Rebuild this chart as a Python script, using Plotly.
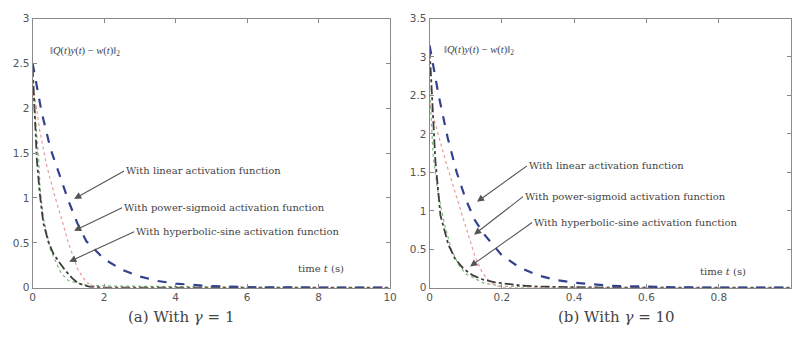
import plotly.graph_objects as go

# ---- panel (a): gamma = 1 ----
t_lin_a = [0, 0.25, 0.5, 0.75, 1.0, 1.25, 1.5, 2.0, 2.5, 3.0, 3.5, 4.0, 5.0, 6.0, 7.0, 8.0, 9.0, 10.0]
lin_a = [2.50, 1.96, 1.55, 1.25, 0.97, 0.72, 0.52, 0.32, 0.20, 0.125, 0.075, 0.046, 0.017, 0.006, 0.002, 0.001, 0.0, 0.0]

t_ps_a = [0, 0.2, 0.4, 0.6, 0.86, 1.0, 1.27, 1.5, 1.75, 2.0, 3.0, 5.0, 10.0]
ps_a = [2.30, 1.75, 1.35, 1.05, 0.70, 0.50, 0.20, 0.06, 0.01, 0.0, 0.0, 0.0, 0.0]

t_hs_a = [0, 0.05, 0.12, 0.2, 0.3, 0.45, 0.58, 0.75, 0.9, 1.1, 1.27, 1.6, 2.0, 3.0, 5.0, 10.0]
hs_a = [2.45, 2.0, 1.42, 1.05, 0.72, 0.50, 0.38, 0.28, 0.20, 0.11, 0.05, 0.01, 0.0, 0.0, 0.0, 0.0]

t_gr_a = [0, 0.1, 0.17, 0.21, 0.3, 0.5, 0.8, 1.0, 1.5, 2.0, 3.0, 4.0, 6.0, 10.0]
gr_a = [2.30, 1.80, 1.42, 1.10, 0.78, 0.42, 0.16, 0.08, 0.03, 0.02, 0.015, 0.01, 0.005, 0.0]

# ---- panel (b): gamma = 10 ----
t_lin_b = [0, 0.025, 0.05, 0.075, 0.1, 0.125, 0.15, 0.2, 0.25, 0.3, 0.35, 0.4, 0.5, 0.6, 0.7, 0.8, 0.9, 1.0]
lin_b = [3.15, 2.50, 1.95, 1.50, 1.15, 0.88, 0.70, 0.42, 0.26, 0.16, 0.10, 0.065, 0.025, 0.01, 0.004, 0.002, 0.001, 0.0]

t_ps_b = [0, 0.02, 0.044, 0.07, 0.098, 0.126, 0.145, 0.16, 0.18, 0.2, 0.25, 0.5, 1.0]
ps_b = [2.40, 2.05, 1.65, 1.25, 0.82, 0.40, 0.20, 0.11, 0.03, 0.005, 0.0, 0.0, 0.0]

t_hs_b = [0, 0.005, 0.01, 0.016, 0.03, 0.052, 0.07, 0.093, 0.12, 0.145, 0.18, 0.21, 0.25, 0.3, 0.4, 0.5, 1.0]
hs_b = [3.10, 2.60, 2.15, 1.65, 0.94, 0.56, 0.38, 0.25, 0.16, 0.11, 0.07, 0.05, 0.03, 0.015, 0.005, 0.0, 0.0]

t_gr_b = [0, 0.005, 0.01, 0.022, 0.04, 0.06, 0.08, 0.1, 0.15, 0.2, 0.3, 0.5, 1.0]
gr_b = [2.60, 2.20, 1.70, 1.28, 0.85, 0.50, 0.30, 0.18, 0.06, 0.02, 0.01, 0.005, 0.0]

x_ticks_a = [0, 2, 4, 6, 8, 10]
y_ticks_a = [0, 0.5, 1, 1.5, 2, 2.5, 3]
x_ticks_b = [0, 0.2, 0.4, 0.6, 0.8]
y_ticks_b = [0, 0.5, 1, 1.5, 2, 2.5, 3, 3.5]

labels = ["With linear activation function",
          "With power-sigmoid activation function",
          "With hyperbolic-sine activation function"]

W, H = 800, 341

fig = go.Figure()

def add_panel(xa, ya, tl, l, tp, p, th, h, tg, g):
    fig.add_trace(go.Scatter(x=tg, y=g, mode="lines", xaxis=xa, yaxis=ya,
                             line=dict(color="#7ab87a", width=1.2, dash="dot"), showlegend=False))
    fig.add_trace(go.Scatter(x=tp, y=p, mode="lines", xaxis=xa, yaxis=ya,
                             line=dict(color="#e99a9a", width=1.2, dash="dot"), showlegend=False))
    fig.add_trace(go.Scatter(x=th, y=h, mode="lines", xaxis=xa, yaxis=ya,
                             line=dict(color="#3c3c3c", width=1.8, dash="dashdot"), showlegend=False))
    fig.add_trace(go.Scatter(x=tl, y=l, mode="lines", xaxis=xa, yaxis=ya,
                             line=dict(color="#33418f", width=2.2, dash="dash"), showlegend=False))

add_panel("x", "y", t_lin_a, lin_a, t_ps_a, ps_a, t_hs_a, hs_a, t_gr_a, gr_a)
add_panel("x2", "y2", t_lin_b, lin_b, t_ps_b, ps_b, t_hs_b, hs_b, t_gr_b, gr_b)

ax_common = dict(showline=True, linecolor="#8a8a8a", linewidth=1, mirror="ticks",
                 ticks="inside", ticklen=4, tickcolor="#8a8a8a", showgrid=False,
                 zeroline=False, tickfont=dict(family="DejaVu Sans", size=10.5, color="#555"))

y_top = 1 - 13 / H
y_bot = 1 - 292 / H
fig.update_layout(
    width=W, height=H, margin=dict(l=0, r=0, t=0, b=0),
    paper_bgcolor="white", plot_bgcolor="white",
    xaxis=dict(domain=[30 / W, 392 / W], range=[0, 10], tickvals=x_ticks_a, anchor="y", **ax_common),
    yaxis=dict(domain=[y_bot, y_top], range=[0, 3], tickvals=y_ticks_a, anchor="x", **ax_common),
    xaxis2=dict(domain=[432 / W, 798 / W], range=[0, 1], tickvals=x_ticks_b, anchor="y2", **ax_common),
    yaxis2=dict(domain=[y_bot, y_top], range=[0, 3.5], tickvals=y_ticks_b, anchor="x2", **ax_common),
)

serif = "DejaVu Serif"
txt_col = "#444"

def ptext(px, py, text, size=11, xanchor="left", family=serif):
    fig.add_annotation(x=px / W, y=1 - py / H, xref="paper", yref="paper", text=text,
                       showarrow=False, xanchor=xanchor, yanchor="middle",
                       font=dict(family=family, size=size, color=txt_col))

def arrow_text(hx, hy, tx, ty, text, size=10):
    # arrow head at (hx, hy); text's left-middle at (tx, ty) (pixels)
    fig.add_annotation(x=hx / W, y=1 - hy / H, xref="paper", yref="paper", text=text,
                       showarrow=True, arrowhead=2, arrowsize=1.3, arrowwidth=1.1,
                       arrowcolor="#555", ax=tx - hx, ay=ty - hy, axref="pixel", ayref="pixel",
                       xanchor="left", yanchor="middle",
                       font=dict(family=serif, size=size, color=txt_col))

norm = "‖<i>Q</i>(<i>t</i>)<i>y</i>(<i>t</i>) − <i>w</i>(<i>t</i>)‖<sub>2</sub>"
time_lbl = "time <i>t</i> (s)"

# panel (a) texts
ptext(46, 47, norm, 10.5, family="Liberation Serif")
arrow_text(72, 200, 122, 172, labels[0])
arrow_text(72, 233, 120, 210, labels[1])
arrow_text(67, 265, 132, 235, labels[2])
ptext(297, 272, time_lbl, 10)
ptext(180, 322, "(a) With <i>γ</i> = 1", 15, "center")

# panel (b) texts
ptext(445, 46, norm, 10.5, family="Liberation Serif")
arrow_text(480, 203, 530, 167, labels[0])
arrow_text(477, 237, 526, 199, labels[1])
arrow_text(473, 270, 535, 226, labels[2])
ptext(704, 275, time_lbl, 10)
ptext(621, 322, "(b) With <i>γ</i> = 10", 15, "center")

fig.write_html("out.html")
